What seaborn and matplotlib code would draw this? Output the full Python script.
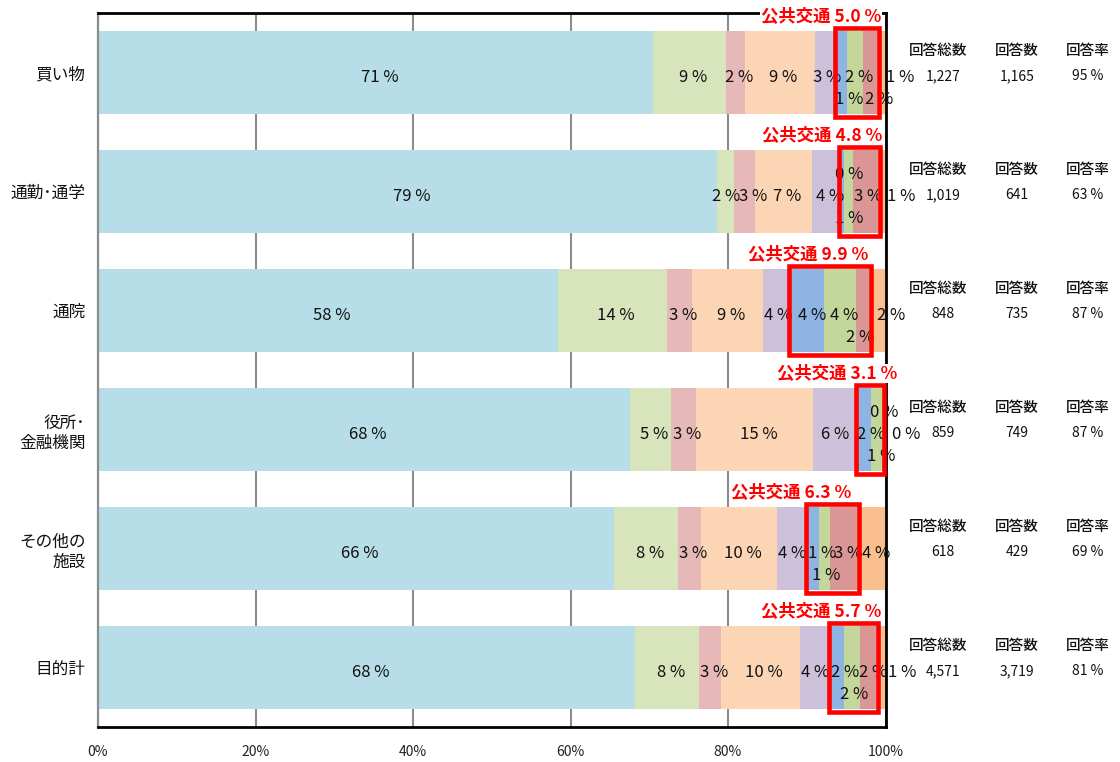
import numpy as np
import pandas as pd
import matplotlib
matplotlib.use("Agg")
import matplotlib.pyplot as plt
import seaborn as sns
from matplotlib.patches import Rectangle

# ---- data -------------------------------------------------------------
purposes = ["買い物", "通勤･通学", "通院", "役所･\n金融機関", "その他の\n施設", "目的計"]
modes = ["自動車", "送迎", "バイク", "自転車", "徒歩", "バス", "鉄道", "タクシー", "その他"]

car      = [70.5, 78.6, 58.4, 67.6, 65.5, 68.2]
pickup   = [9.2, 2.2, 13.8, 5.1, 8.1, 8.1]
bike     = [2.4, 2.6, 3.2, 3.3, 3.0, 2.8]
bicycle  = [8.9, 7.3, 9.0, 14.8, 9.6, 10.0]
walk     = [2.9, 3.6, 3.6, 5.7, 3.9, 4.0]
bus      = [1.2, 0.4, 4.2, 1.7, 1.45, 1.6]
rail     = [2.1, 1.2, 4.0, 1.3, 1.4, 2.1]
taxi     = [1.7, 3.2, 1.7, 0.1, 3.45, 2.0]
other    = [1.1, 0.9, 2.1, 0.4, 3.6, 1.2]

total_count    = [1227, 1019, 848, 859, 618, 4571]
answered_count = [1165, 641, 735, 749, 429, 3719]

public_modes = ["バス", "鉄道", "タクシー"]
xtick_values = [0, 20, 40, 60, 80, 100]
xtick_labels = ["0%", "20%", "40%", "60%", "80%", "100%"]
panel_headers = ["回答総数", "回答数", "回答率"]

# ---- styling ----------------------------------------------------------
colors = ["#B7DDE8", "#D8E4BC", "#E6B9B8", "#FCD5B5", "#CCC0DA",
          "#8DB4E2", "#C4D79B", "#DA9694", "#FABF8F"]

# label placement for crowded segments: {segment index: (row level, dx px)}
label_layout = [
    {4: (0, 1), 5: (1, 7), 6: (0, 4), 7: (1, 9), 8: (0, 19)},
    {1: (0, 0), 2: (0, 9), 5: (-1, 7), 6: (1, 1), 7: (0, 2), 8: (0, 19)},
    {4: (0, 1), 5: (0, 5), 7: (1, -2), 8: (0, 14)},
    {4: (0, 0), 5: (0, 6), 6: (1, 5), 7: (-1, 2), 8: (0, 22)},
    {4: (0, 0), 5: (0, 9), 6: (1, 2), 7: (0, 5), 8: (0, 5)},
    {4: (0, 0), 5: (0, 8), 6: (1, 2), 7: (0, 5), 8: (0, 21)},
]
title_dx = [2, 2, -3, 13, -8, 3]

sns.set_style("white")
plt.rcParams["font.family"] = ["Noto Sans CJK JP", "DejaVu Sans"]
num_font = ["Noto Sans CJK JP", "DejaVu Sans"]

shares = pd.DataFrame(
    dict(zip(modes, [car, pickup, bike, bicycle, walk, bus, rail, taxi, other])),
    index=purposes,
)
cum = shares.cumsum(axis=1)

fig = plt.figure(figsize=(11.2, 7.62), dpi=100)
ax = fig.add_axes([98 / 1120, 35 / 762, 787.5 / 1120, 714 / 762])

bar_w = 0.7
# stacked bars: draw cumulative totals from the outermost segment inward
for mode, col in reversed(list(zip(modes, colors))):
    sns.barplot(x=cum[mode].values, y=purposes, orient="h", color=col,
                saturation=1, width=bar_w, linewidth=0, ax=ax)

ax.set_xlim(0, 100)
ax.set_ylim(len(purposes) - 0.5, -0.5)
ax.set_xlabel("")
ax.set_ylabel("")
ax.set_xticks(xtick_values)
ax.set_xticklabels(xtick_labels, family=num_font, fontsize=10, color="#222222")
ax.tick_params(axis="x", length=0, pad=13)
ax.tick_params(axis="y", length=0, pad=9)
for lbl in ax.get_yticklabels():
    lbl.set_fontsize(12)
    lbl.set_color("#111111")
    lbl.set_linespacing(1.25)

ax.set_axisbelow(True)
ax.xaxis.grid(True, color="#8c8c8c", lw=1.5)
ax.yaxis.grid(False)
for side in ["top", "right", "bottom"]:
    ax.spines[side].set_color("black")
    ax.spines[side].set_linewidth(2)
ax.spines["left"].set_color("#8c8c8c")
ax.spines["left"].set_linewidth(1.6)

# segment labels
for i, purpose in enumerate(purposes):
    row = shares.loc[purpose]
    right = cum.loc[purpose]
    for j, mode in enumerate(modes):
        v = row[mode]
        center = right[mode] - v / 2
        level, dx = label_layout[i].get(j, (0, 4))
        ax.annotate(f"{int(v + 0.5)} %", xy=(center, i),
                    xytext=(dx, -5 - 22 * level), textcoords="offset pixels",
                    ha="center", va="center", fontsize=12, family=num_font,
                    color="#111111", annotation_clip=False)

    # public-transport box and caption
    x0 = right[public_modes[0]] - row[public_modes[0]]
    x1 = right[public_modes[-1]]
    pad_x, pad_y = 0.25, 0.02
    ax.add_patch(Rectangle((x0 - pad_x, i - bar_w / 2 - pad_y),
                           (x1 - x0) + 2 * pad_x, bar_w + 2 * pad_y,
                           fill=False, edgecolor="#FF0000", lw=3.3,
                           zorder=7, clip_on=False))
    public_total = sum(row[m] for m in public_modes)
    ax.annotate(f"公共交通 {public_total:.1f} %",
                xy=(x1 + pad_x, i - bar_w / 2 - pad_y),
                xytext=(title_dx[i], 3), textcoords="offset pixels",
                ha="right", va="bottom", fontsize=12.5, fontweight="bold",
                color="#FF0000", zorder=6, annotation_clip=False,
                bbox=dict(boxstyle="square,pad=0.05", fc="white", ec="none"))

    # response summary on the right
    rate = answered_count[i] / total_count[i] * 100
    values = [f"{total_count[i]:,}", f"{answered_count[i]:,}", f"{int(rate + 0.5)} %"]
    for k, (hdr, val) in enumerate(zip(panel_headers, values)):
        xc = [106.7, 116.7, 125.7][k]
        ax.text(xc, i - 0.18, hdr, ha="center", va="center",
                fontsize=10.5, fontweight="medium", color="#111111")
        ax.text(xc + (0.6 if k == 0 else 0), i + 0.03, val, ha="center", va="center",
                fontsize=10, family=num_font, color="#111111")

fig.savefig("out.png", dpi=100)
